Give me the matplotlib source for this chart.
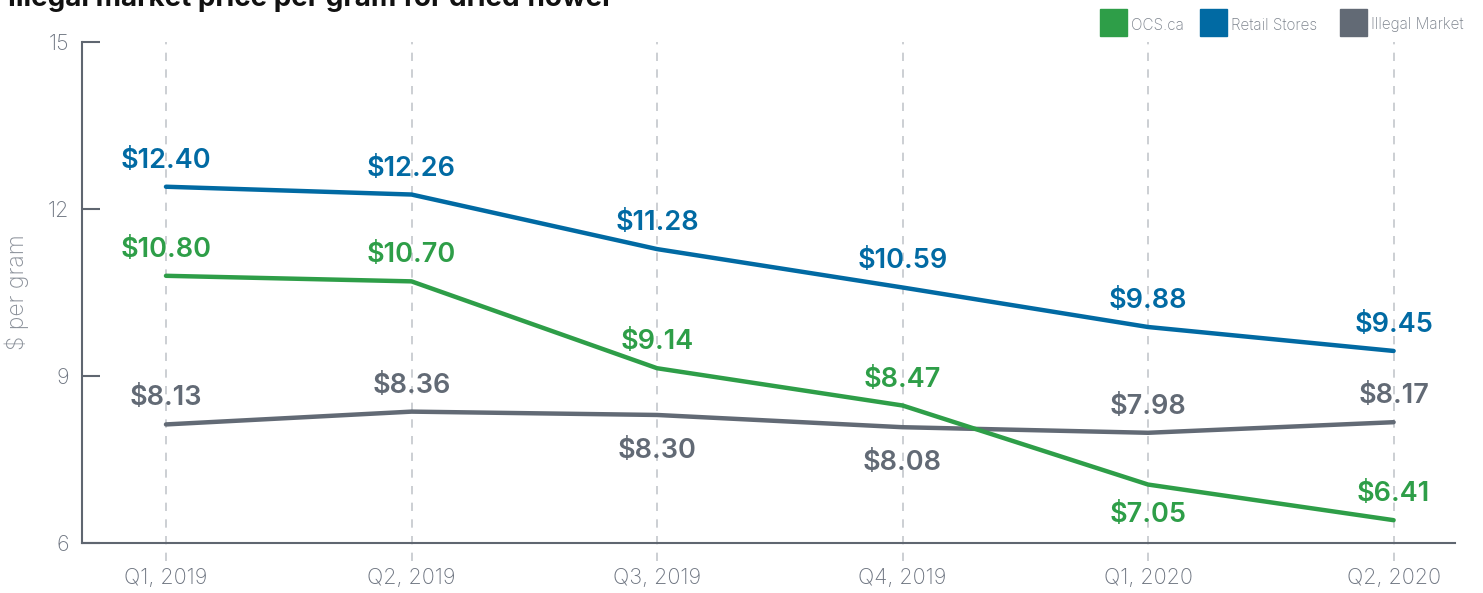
import matplotlib
matplotlib.use("Agg")
import matplotlib.pyplot as plt
import matplotlib.transforms as mtransforms

categories = ["Q1, 2019", "Q2, 2019", "Q3, 2019", "Q4, 2019", "Q1, 2020", "Q2, 2020"]
ocs = [10.80, 10.70, 9.14, 8.47, 7.05, 6.41]
retail = [12.40, 12.26, 11.28, 10.59, 9.88, 9.45]
illegal = [8.13, 8.36, 8.30, 8.08, 7.98, 8.17]
yticks = [6, 9, 12, 15]

# label placement: +1 above, -1 below
ocs_pos = [1, 1, 1, 1, -1, 1]
retail_pos = [1, 1, 1, 1, 1, 1]
illegal_pos = [1, 1, -1, -1, 1, 1]

GREEN = "#2e9e48"
BLUE = "#016aa3"
GRAY = "#626a75"
AXIS = "#5f6670"
TICK = "#6d7480"
GRID = "#c4c7cc"

plt.rcParams["font.family"] = ["Inter", "DejaVu Sans"]

W, H = 1483, 593
fig = plt.figure(figsize=(W / 100, H / 100), dpi=100)
ax = fig.add_axes([82 / W, 1 - 543 / H, (1455 - 82) / W, (543 - 42) / H])

x = list(range(len(categories)))
ax.set_xlim(-0.342, 5.25)
ax.set_ylim(6, 15)

# dashed vertical guides extending below axis
trans = mtransforms.blended_transform_factory(ax.transData, ax.transAxes)
for xi in x:
    ax.plot([xi, xi], [-0.036, 1.0], transform=trans, color=GRID, lw=1.2,
            ls=(0, (5, 5)), clip_on=False, zorder=1)

ax.plot(x, illegal, color=GRAY, lw=3.2, solid_capstyle="round", zorder=3)
ax.plot(x, retail, color=BLUE, lw=3.2, solid_capstyle="round", zorder=3)
ax.plot(x, ocs, color=GREEN, lw=3.2, solid_capstyle="round", zorder=4)

def labels(vals, pos, color, above_px=26, below_px=30):
    for xi, v, p in zip(x, vals, pos):
        off = above_px if p > 0 else -below_px
        ax.annotate(f"${v:.2f}", (xi, v), xytext=(0, off * 0.72), textcoords="offset points",
                    ha="center", va="center", color=color, fontsize=19.5,
                    fontweight="semibold", zorder=5)

labels(retail, retail_pos, BLUE)
labels(ocs, ocs_pos, GREEN, below_px=30)
labels(illegal, illegal_pos, GRAY, below_px=36)

for s in ["top", "right"]:
    ax.spines[s].set_visible(False)
for s in ["left", "bottom"]:
    ax.spines[s].set_color(AXIS)
    ax.spines[s].set_linewidth(1.5)

ax.set_yticks(yticks)
ax.set_yticklabels([str(t) for t in yticks])
ax.tick_params(axis="y", direction="in", length=13, width=1.5, color=AXIS,
               labelsize=15.5, labelcolor=TICK, pad=9)
ax.set_xticks(x)
ax.set_xticklabels(categories)
ax.tick_params(axis="x", length=0, labelsize=15.5, labelcolor=TICK, pad=18)
for lab in ax.get_yticklabels() + ax.get_xticklabels():
    lab.set_fontweight("light")

ax.set_ylabel("$ per gram", color="#8a9099", fontsize=16.5, fontweight="light", labelpad=14)

# title (cut off at the top, as in the reference)
fig.text(8 / W, 1 - 6 / H, "Illegal market price per gram for dried flower",
         fontsize=20, fontweight="bold", color="#111111", va="baseline", ha="left")

# legend
legend_items = [("OCS.ca", GREEN, 1100), ("Retail Stores", BLUE, 1200), ("Illegal Market", GRAY, 1340)]
for name, col, px in legend_items:
    fig.patches.append(plt.Rectangle((px / W, 1 - 36 / H), 27 / W, 27 / H,
                                     transform=fig.transFigure, color=col, figure=fig))
    fig.text((px + 31) / W, 1 - 25 / H, name, fontsize=11, color="#7a818b",
             va="center", ha="left", fontweight="light")

fig.savefig("out.png", dpi=100)
